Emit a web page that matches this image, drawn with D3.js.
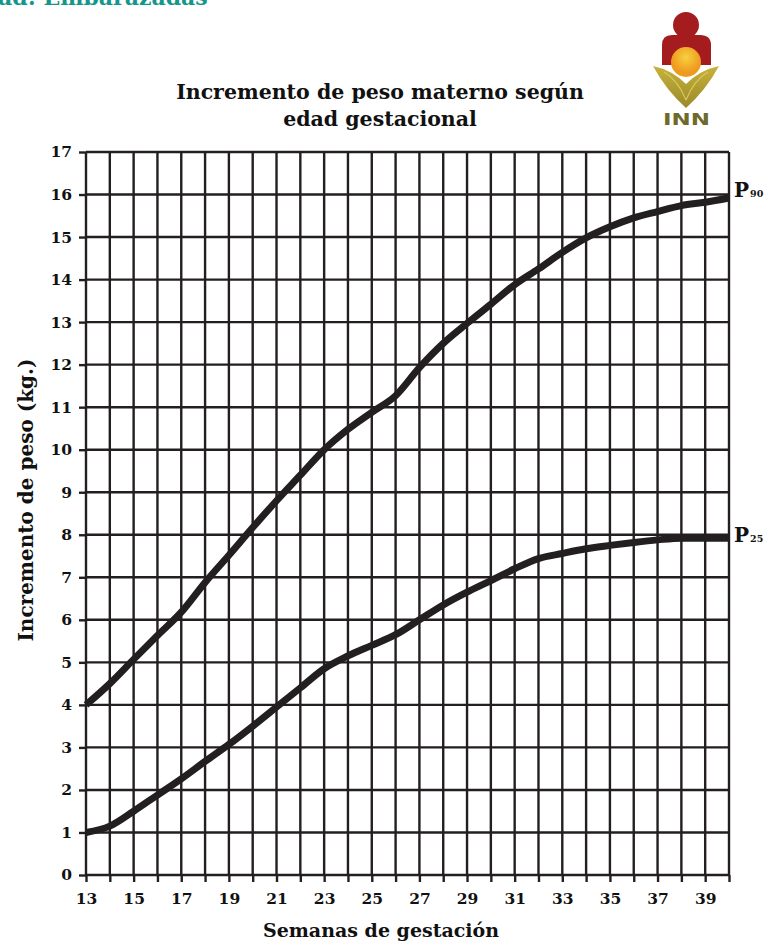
<!DOCTYPE html>
<html>
<head>
<meta charset="utf-8">
<script src="https://cdn.jsdelivr.net/npm/d3@7"></script>
<style>
  html, body { margin: 0; padding: 0; background: #ffffff; }
  svg { display: block; }
</style>
</head>
<body>
<svg id="chart" width="764" height="944"></svg>
<script>
// ---- data ----
const weeks = [13,14,15,16,17,18,19,20,21,22,23,24,25,26,27,28,29,30,31,32,33,34,35,36,37,38,39,40];
const p90 = [4.0,4.5,5.07,5.63,6.18,6.88,7.52,8.17,8.8,9.4,10.0,10.48,10.88,11.27,11.93,12.5,12.97,13.42,13.88,14.25,14.64,14.98,15.24,15.45,15.6,15.74,15.82,15.92];
const p25 = [1.0,1.15,1.5,1.88,2.26,2.67,3.07,3.5,3.95,4.4,4.85,5.15,5.4,5.65,6.0,6.35,6.65,6.92,7.2,7.44,7.56,7.67,7.75,7.82,7.88,7.92,7.92,7.92];
const yTicks = [0,1,2,3,4,5,6,7,8,9,10,11,12,13,14,15,16,17];
const xTickLabels = [13,15,17,19,21,23,25,27,29,31,33,35,37,39];
const titleLines = ["Incremento de peso materno según", "edad gestacional"];
const xTitle = "Semanas de gestación";
const yTitle = "Incremento de peso (kg.)";

// ---- layout ----
const svg = d3.select("#chart");
const mLeft = 86, mRight = 729, mTop = 152, mBottom = 875;
const ink = "#231f20";
const serif = "'DejaVu Serif', serif";

const x = d3.scaleLinear().domain([13, 40]).range([mLeft, mRight]);
const y = d3.scaleLinear().domain([0, 17]).range([mBottom, mTop]);

// header fragment (cut off at top, as in the source page)
svg.append("text")
  .attr("x", -2).attr("y", 5)
  .attr("font-family", serif).attr("font-weight", "bold").attr("font-size", 22)
  .attr("fill", "#14978a")
  .text("ad: Embarazadas");

// title
svg.append("g").selectAll("text").data(titleLines).join("text")
  .attr("x", 380).attr("y", (d, i) => 99 + i * 27)
  .attr("text-anchor", "middle")
  .attr("font-family", serif).attr("font-weight", "bold").attr("font-size", 20.5)
  .attr("fill", "#111")
  .text(d => d);

// grid
const grid = svg.append("g").attr("stroke", ink).attr("stroke-width", 2.4);
grid.selectAll("line.v").data(weeks).join("line").attr("class", "v")
  .attr("x1", d => x(d)).attr("x2", d => x(d))
  .attr("y1", y(0)).attr("y2", y(17));
grid.selectAll("line.h").data(yTicks).join("line").attr("class", "h")
  .attr("x1", x(13)).attr("x2", x(40))
  .attr("y1", d => y(d)).attr("y2", d => y(d));

// axes
const yAxis = svg.append("g").attr("transform", `translate(${mLeft},0)`)
  .call(d3.axisLeft(y).tickValues(yTicks).tickSize(7).tickPadding(7).tickSizeOuter(0));
const xAxis = svg.append("g").attr("transform", `translate(0,${mBottom})`)
  .call(d3.axisBottom(x).tickValues(weeks).tickSize(7).tickPadding(11).tickSizeOuter(0)
    .tickFormat(d => xTickLabels.includes(d) ? d : ""));
[yAxis, xAxis].forEach(a => {
  a.select(".domain").remove();
  a.selectAll(".tick line").attr("stroke", ink).attr("stroke-width", 2.4);
  a.selectAll(".tick text")
    .attr("font-family", serif).attr("font-weight", "bold").attr("font-size", 15.5)
    .attr("fill", "#111");
});

// curves
const line = d3.line().x((d, i) => x(weeks[i])).y(d => y(d)).curve(d3.curveMonotoneX);
[p90, p25].forEach(s => {
  svg.append("path").datum(s)
    .attr("d", line)
    .attr("fill", "none").attr("stroke", ink).attr("stroke-width", 7)
    .attr("stroke-linejoin", "round");
});

// series labels
const labels = [{name: "P", sub: "90", v: p90[p90.length - 1], dy: -1}, {name: "P", sub: "25", v: p25[p25.length - 1], dy: 4}];
labels.forEach(l => {
  const t = svg.append("text")
    .attr("x", x(40) + 5).attr("y", y(l.v) + l.dy)
    .attr("font-family", serif).attr("font-weight", "bold").attr("font-size", 20)
    .attr("fill", "#111");
  t.append("tspan").text(l.name);
  t.append("tspan").attr("font-size", 9.5).attr("dx", 1).text(l.sub);
});

// axis titles
svg.append("text")
  .attr("x", 381).attr("y", 937)
  .attr("text-anchor", "middle")
  .attr("font-family", serif).attr("font-weight", "bold").attr("font-size", 19)
  .attr("fill", "#111")
  .text(xTitle);
svg.append("text")
  .attr("transform", "translate(33,500) rotate(-90)")
  .attr("text-anchor", "middle")
  .attr("font-family", serif).attr("font-weight", "bold").attr("font-size", 20)
  .attr("fill", "#111")
  .text(yTitle);

// INN logo (decoration)
const defs = svg.append("defs");
const lg = defs.append("linearGradient").attr("id", "leaf").attr("x1", 0).attr("y1", 0).attr("x2", 0).attr("y2", 1);
lg.append("stop").attr("offset", "0%").attr("stop-color", "#c8b23a");
lg.append("stop").attr("offset", "100%").attr("stop-color", "#9a8a2a");
const rg = defs.append("radialGradient").attr("id", "sun").attr("cy", "35%");
rg.append("stop").attr("offset", "0%").attr("stop-color", "#f8d040");
rg.append("stop").attr("offset", "100%").attr("stop-color", "#ee9a1e");
const logo = svg.append("g");
logo.append("circle").attr("cx", 686).attr("cy", 25).attr("r", 13).attr("fill", "#a51c1e");
logo.append("path").attr("d", "M662,65 L662,45 Q662,35 672,35 L700,35 Q711,35 711,45 L711,65 Z").attr("fill", "#a51c1e");
logo.append("circle").attr("cx", 686).attr("cy", 62).attr("r", 15).attr("fill", "url(#sun)");
logo.append("path").attr("d", "M653,66 Q672,70 686,84 Q700,70 719,66 Q706,90 686,108 Q666,90 653,66 Z").attr("fill", "url(#leaf)");
logo.append("path").attr("d", "M664,72 Q678,80 686,100 M708,72 Q694,80 686,100").attr("stroke", "#d8c860").attr("stroke-width", 1.2).attr("fill", "none");
logo.append("text").attr("x", 663).attr("y", 125)
  .attr("textLength", 47).attr("lengthAdjust", "spacingAndGlyphs")
  .attr("font-family", "'DejaVu Sans', sans-serif").attr("font-weight", "bold").attr("font-size", 16)
  .attr("fill", "#6e6a2c").text("INN");
</script>
</body>
</html>
